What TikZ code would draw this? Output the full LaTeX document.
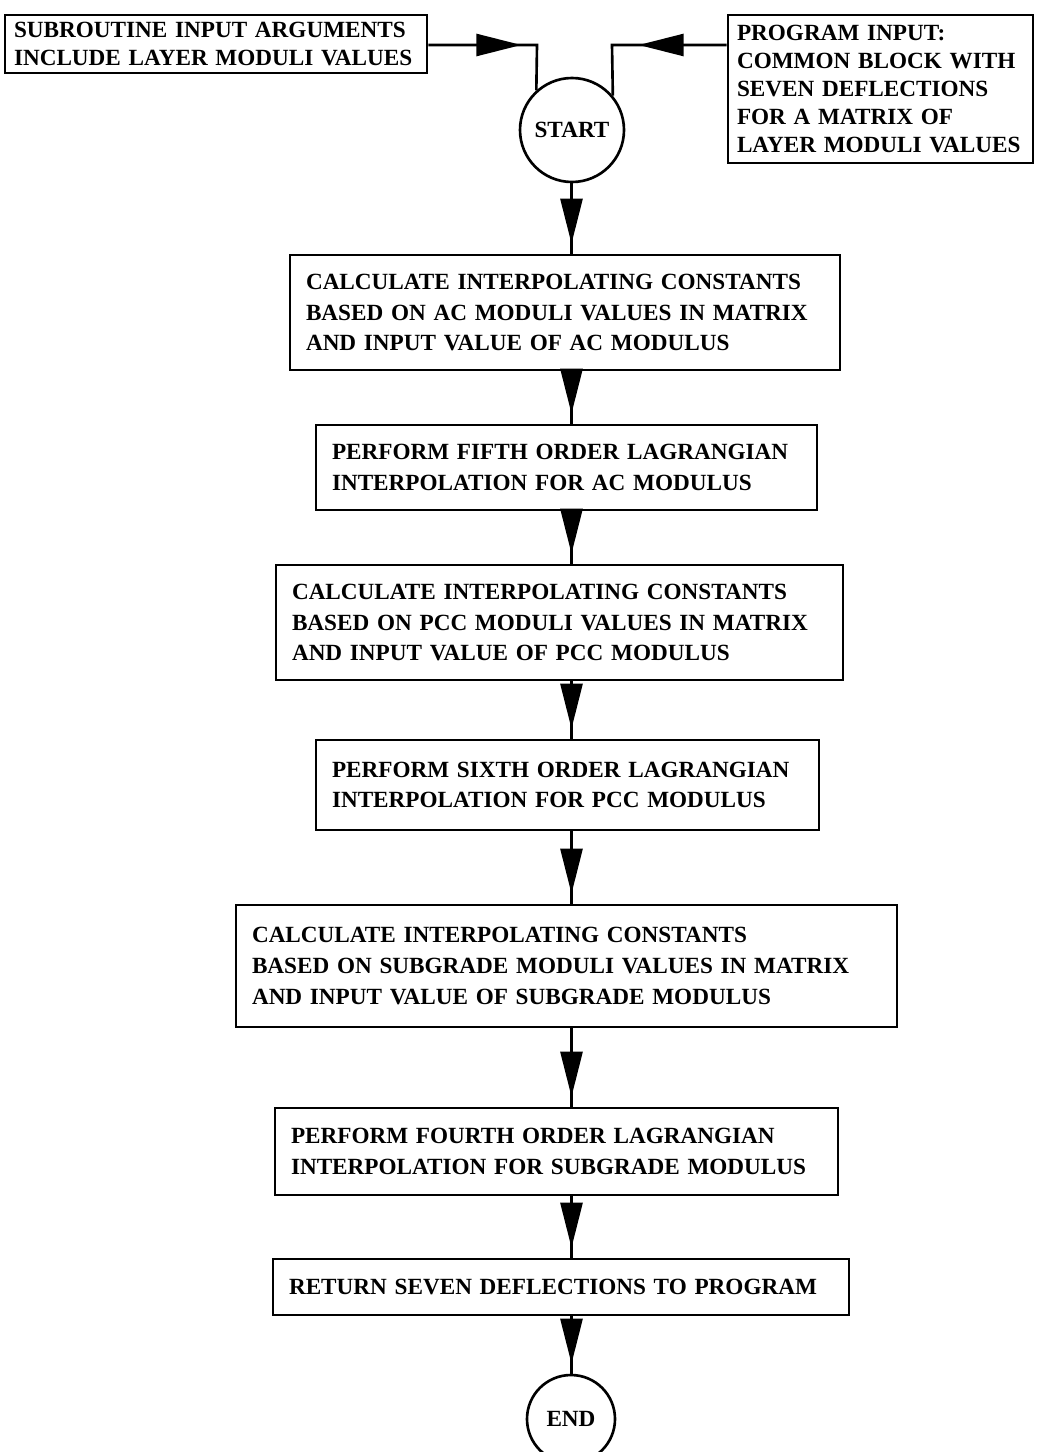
\documentclass[tikz,border=0pt]{standalone}
\usepackage{fontspec}
\setmainfont{Liberation Serif}
\usetikzlibrary{arrows.meta,decorations.markings}

\tikzset{
  procbox/.style={draw, line width=1.5pt, align=left, inner xsep=0.32cm,
    font=\fontsize{13.2}{17.5}\selectfont\bfseries},
  inbox/.style={procbox, inner xsep=0.18cm,
    font=\fontsize{13.2}{15.8}\selectfont\bfseries},
  terminal/.style={draw, circle, line width=1.5pt, inner sep=0pt,
    font=\fontsize{13.2}{15}\selectfont\bfseries},
  flow/.style={line width=1.5pt, postaction={decorate},
    decoration={markings,
      mark=at position #1 with {\arrow{Triangle[length=0.9cm,width=0.44cm]}}}},
  flow/.default=-0.2cm
}

\begin{document}
\begin{tikzpicture}
\useasboundingbox (0,0) rectangle (20.74,-29.04);
% Inputs and start
\node[inbox, text width=8.08cm, minimum height=1.16cm] (args) at (4.32,-0.88)
    {SUBROUTINE INPUT ARGUMENTS\\INCLUDE LAYER MODULI VALUES};
\node[inbox, text width=5.74cm, minimum height=2.96cm] (common) at (17.61,-1.78)
    {PROGRAM INPUT:\\COMMON BLOCK WITH\\SEVEN DEFLECTIONS\\FOR A MATRIX OF\\LAYER MODULI VALUES};
\node[terminal, minimum size=2.08cm] (start) at (11.44,-2.60) {START};
% Processing steps
\node[procbox, text width=10.36cm, minimum height=2.30cm] (acconst) at (11.30,-6.25)
    {CALCULATE INTERPOLATING CONSTANTS\\BASED ON AC MODULI VALUES IN MATRIX\\AND INPUT VALUE OF AC MODULUS};
\node[procbox, text width=9.38cm, minimum height=1.70cm] (acinterp) at (11.33,-9.35)
    {PERFORM FIFTH ORDER LAGRANGIAN\\INTERPOLATION FOR AC MODULUS};
\node[procbox, text width=10.70cm, minimum height=2.30cm] (pccconst) at (11.19,-12.45)
    {CALCULATE INTERPOLATING CONSTANTS\\BASED ON PCC MODULI VALUES IN MATRIX\\AND INPUT VALUE OF PCC MODULUS};
\node[procbox, text width=9.42cm, minimum height=1.80cm] (pccinterp) at (11.35,-15.70)
    {PERFORM SIXTH ORDER LAGRANGIAN\\INTERPOLATION FOR PCC MODULUS};
\node[procbox, text width=12.58cm, minimum height=2.44cm] (sgconst) at (11.33,-19.32)
    {CALCULATE INTERPOLATING CONSTANTS\\BASED ON SUBGRADE MODULI VALUES IN MATRIX\\AND INPUT VALUE OF SUBGRADE MODULUS};
\node[procbox, text width=10.62cm, minimum height=1.74cm] (sginterp) at (11.13,-23.03)
    {PERFORM FOURTH ORDER LAGRANGIAN\\INTERPOLATION FOR SUBGRADE MODULUS};
\node[procbox, text width=10.88cm, minimum height=1.12cm] (return) at (11.22,-25.74)
    {RETURN SEVEN DEFLECTIONS TO PROGRAM};
\node[terminal, minimum size=1.76cm] (finish) at (11.42,-28.38) {END};
% Connectors
\coordinate (col) at (11.43,0);
\coordinate (joinA) at (10.74,-0.9);
\coordinate (joinB) at (12.24,-0.9);
\draw[flow=1.86cm] (args.east |- joinA) -- (joinA) -- (start.132);
\draw[flow=1.76cm] (common.west |- joinB) -- (joinB) -- (start.40);
\foreach \a/\b in {start/acconst, acconst/acinterp, acinterp/pccconst,
    pccconst/pccinterp, pccinterp/sgconst, sgconst/sginterp,
    sginterp/return, return/finish}
  \draw[flow] (\a.south -| col) -- (\b.north -| col);
\end{tikzpicture}
\end{document}
